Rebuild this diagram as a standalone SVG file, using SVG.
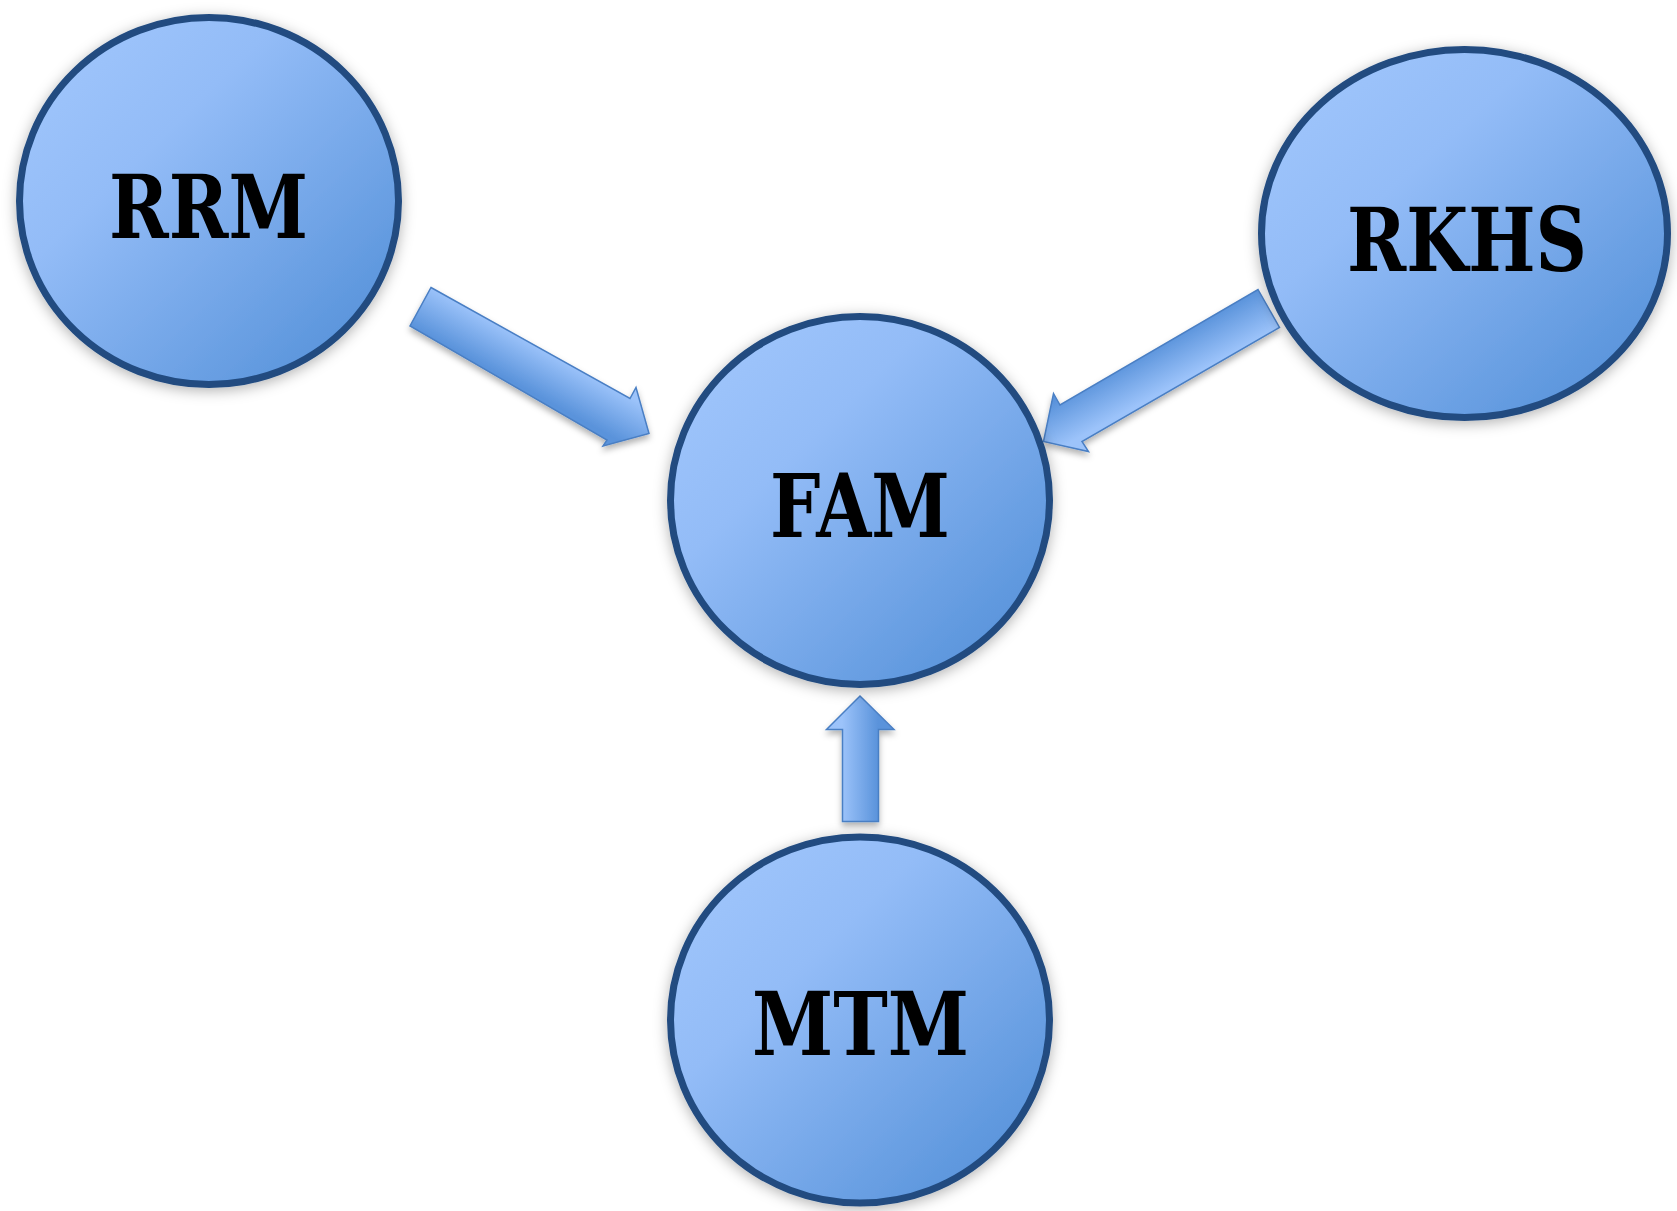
<svg xmlns="http://www.w3.org/2000/svg" width="1677" height="1211" viewBox="0 0 1677 1211">
<defs>
<linearGradient id="nodeGrad" x1="0" y1="0" x2="1" y2="1">
<stop offset="0" stop-color="#a3c8fd"/>
<stop offset="0.35" stop-color="#93bcf7"/>
<stop offset="1" stop-color="#4c8bd5"/>
</linearGradient>
<linearGradient id="arrGrad" x1="0" y1="0" x2="1" y2="0">
<stop offset="0" stop-color="#9cc3fa"/>
<stop offset="1" stop-color="#5a93db"/>
</linearGradient>
<filter id="shadow" x="-20%" y="-20%" width="140%" height="140%">
<feDropShadow dx="0" dy="3" stdDeviation="7" flood-color="#000" flood-opacity="0.3"/>
</filter>
<filter id="ashadow" x="-20%" y="-20%" width="140%" height="140%">
<feDropShadow dx="0" dy="4" stdDeviation="3" flood-color="#000" flood-opacity="0.3"/>
</filter>
</defs>
<style>
.node{fill:url(#nodeGrad);stroke:#214b80;stroke-width:7;filter:url(#shadow)}
.label{font-family:"DejaVu Serif","Liberation Serif",serif;font-weight:bold;font-size:88px;fill:#000;text-anchor:middle}
.arrow{stroke:#4a7fc4;stroke-width:1.5;stroke-linejoin:miter;filter:url(#ashadow)}
</style>
<rect width="1677" height="1211" fill="#ffffff"/>
<g id="connectors">
<linearGradient id="g1" gradientUnits="userSpaceOnUse" x1="431" y1="287" x2="410" y2="325"><stop offset="0" stop-color="#9cc3fa"/><stop offset="1" stop-color="#5a93db"/></linearGradient>
<polygon class="arrow" fill="url(#g1)" points="431,287.5 630,398.5 636,387.5 649,433.5 603,446 607,440 410,326"/>
<linearGradient id="g2" gradientUnits="userSpaceOnUse" x1="1279" y1="327" x2="1258" y2="289"><stop offset="0" stop-color="#9cc3fa"/><stop offset="1" stop-color="#5a93db"/></linearGradient>
<polygon class="arrow" fill="url(#g2)" points="1258,289.5 1279.5,327.5 1082,441.5 1088.5,451.5 1043.5,441.5 1053.5,393.5 1060,405"/>
<linearGradient id="g3" gradientUnits="userSpaceOnUse" x1="842" y1="0" x2="878" y2="0"><stop offset="0" stop-color="#9cc3fa"/><stop offset="1" stop-color="#5a93db"/></linearGradient>
<polygon class="arrow" fill="url(#g3)" points="860,696 894,729.5 878.5,729.5 878.5,821.5 842.5,821.5 842.5,729.5 826.5,729.5"/>
</g>
<g id="node-rrm">
<ellipse class="node" cx="209" cy="201" rx="189.5" ry="183.5"/>
<text class="label" x="208.5" y="238" textLength="199" lengthAdjust="spacingAndGlyphs">RRM</text>
</g>
<g id="node-rkhs">
<ellipse class="node" cx="1464.5" cy="233.5" rx="203" ry="184"/>
<text class="label" x="1467" y="271" textLength="240" lengthAdjust="spacingAndGlyphs">RKHS</text>
</g>
<g id="node-fam">
<ellipse class="node" cx="860" cy="500.5" rx="189.5" ry="184"/>
<text class="label" x="860" y="537" textLength="180" lengthAdjust="spacingAndGlyphs">FAM</text>
</g>
<g id="node-mtm">
<ellipse class="node" cx="860" cy="1020" rx="189.5" ry="183"/>
<text class="label" x="860.5" y="1055" textLength="217" lengthAdjust="spacingAndGlyphs">MTM</text>
</g>
</svg>
